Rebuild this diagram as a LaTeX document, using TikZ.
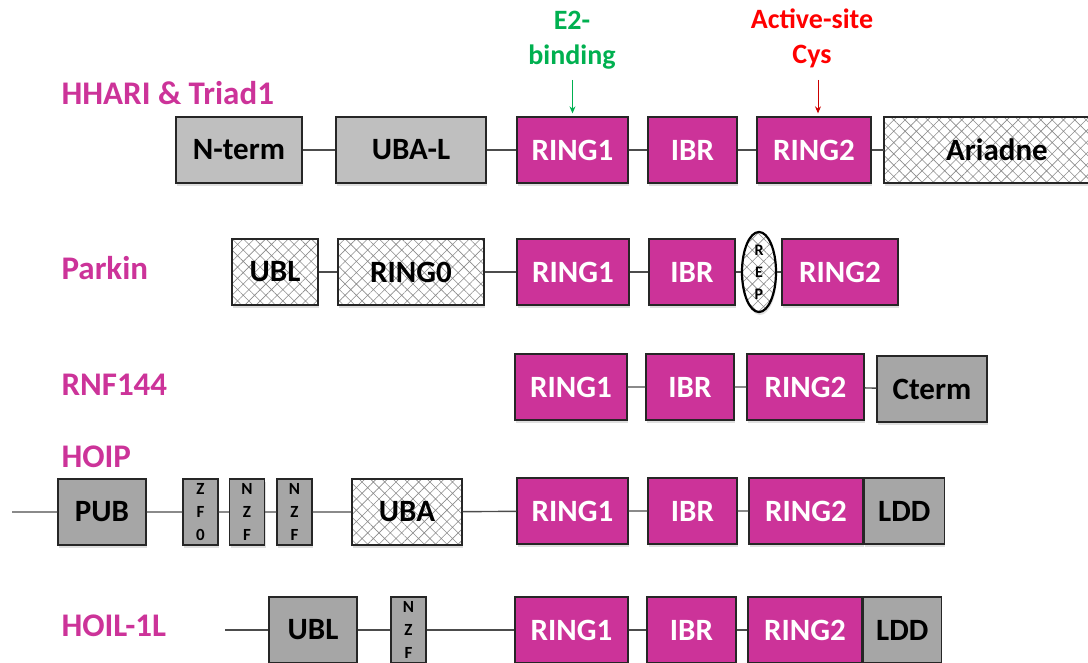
\documentclass[tikz,border=0pt]{standalone}
\usepackage{fontspec}
\setmainfont{Carlito}
\usetikzlibrary{arrows.meta,patterns.meta,shadows,shapes.geometric,positioning}
\definecolor{mag}{HTML}{CC3399}
\definecolor{gmid}{HTML}{A6A6A6}
\definecolor{glight}{HTML}{BFBFBF}
\definecolor{egreen}{HTML}{00B050}
\definecolor{ared}{HTML}{FF0000}
\tikzset{
  dom/.style ={draw=black!85,line width=1.3pt,minimum height=66pt,inner sep=0pt,
               font=\bfseries\fontsize{31}{32}\selectfont,
               drop shadow={shadow xshift=1pt,shadow yshift=-3pt,opacity=0.25}},
  ring/.style={dom,fill=mag,text=white},
  gbox/.style={dom,fill=gmid},
  lbox/.style={dom,fill=glight},
  hbox/.style={dom,preaction={fill=white},
               pattern={Hatch[angle=45,distance=8pt,line width=0.6pt]},pattern color=black!45},
  zbox/.style={gbox,minimum width=35pt,align=center,font=\bfseries\fontsize{17}{23}\selectfont},
  link/.style={draw=black!70,line width=1.4pt},
  plab/.style={text=mag,anchor=west,font=\bfseries\fontsize{33}{34}\selectfont},
  site/.style={align=center,font=\bfseries\fontsize{28}{35}\selectfont},
}

\begin{document}
\begin{tikzpicture}[x=1pt,y=-1pt]
  \clip (0,0) rectangle (1088,663);
  % HHARI & Triad1
  \node[plab] (lhh) at (58,93) {HHARI \& Triad1};
  \node[lbox,minimum width=126pt] (nt)   at (239,150)   {N-term};
  \node[lbox,minimum width=150pt] (ubal) at (411,150)   {UBA-L};
  \node[ring,minimum width=111pt] (ra1)  at (572.5,150) {RING1};
  \node[ring,minimum width=89pt]  (ib1)  at (692.5,150) {IBR};
  \node[ring,minimum width=114pt] (rb1)  at (814,150)   {RING2};
  \node[hbox,minimum width=226pt] (ari)  at (997,150)   {Ariadne};
  \node[site,text=egreen] (e2)  at (572,40) {E2-\\binding};
  \node[site,text=ared]   (act) at (812,38) {Active-site\\Cys};
  \coordinate (e2t)  at (572.5,80);
  \coordinate (actt) at (818,80);
  \draw[egreen,line width=1pt,-{Stealth[length=7pt,width=6pt]},shorten >=3pt] (e2t) -- (ra1);
  \draw[red!80!black,line width=1pt,-{Stealth[length=7pt,width=6pt]},shorten >=3pt] (actt) -- (actt |- rb1.north);
  \draw[link] (nt) -- (ubal) (ubal) -- (ra1) (ra1) -- (ib1) (ib1) -- (rb1) (rb1) -- (ari);

  % Parkin
  \node[plab] (lpk) at (58,268) {Parkin};
  \node[hbox,minimum width=86pt]  (ubl) at (275,272) {UBL};
  \node[hbox,minimum width=146pt] (rg0) at (411,272) {RING0};
  \node[ring,minimum width=112pt] (ra2) at (573,272) {RING1};
  \node[ring,minimum width=86pt]  (ib2) at (692,272) {IBR};
  \node[hbox,ellipse,draw=black,line width=2.2pt,minimum width=34pt,minimum height=80pt,
        align=center,font=\bfseries\fontsize{16}{22}\selectfont] (rep) at (759,272) {R\\E\\P};
  \node[ring,minimum width=116pt] (rb2) at (840,272) {RING2};
  \draw[link] (ubl) -- (rg0) (rg0) -- (ra2) (ra2) -- (ib2) (ib2) -- (rep) (rep) -- (rb2);

  % RNF144
  \node[plab] (lrn) at (58,385) {RNF144};
  \node[ring,minimum width=112pt] (ra3) at (571,387)   {RING1};
  \node[ring,minimum width=88pt]  (ib3) at (690,387)   {IBR};
  \node[ring,minimum width=117pt] (rb3) at (805.5,387) {RING2};
  \node[gbox,minimum width=110pt] (ct)  at (932,389)   {Cterm};
  \draw[link] (ra3) -- (ib3) (ib3) -- (rb3) (rb3) -- (ct);

  % HOIP
  \node[plab] (lho) at (58,457) {HOIP};
  \coordinate (s4) at (12,512);
  \node[gbox,minimum width=88pt]  (pub) at (102,512)   {PUB};
  \node[zbox] (zf0) at (200.5,512) {Z\\F\\0};
  \node[zbox] (nz1) at (247,512)   {N\\Z\\F};
  \node[zbox] (nz2) at (294.5,512) {N\\Z\\F};
  \node[hbox,minimum width=110pt] (uba) at (407,512)   {UBA};
  \node[ring,minimum width=111pt] (ra4) at (572.5,511) {RING1};
  \node[ring,minimum width=89pt]  (ib4) at (692.5,511) {IBR};
  \node[ring,minimum width=114pt] (rb4) at (806,511)   {RING2};
  \node[gbox,minimum width=80pt,anchor=west] (ld4) at (rb4.east) {LDD};
  \draw[link] (s4) -- (pub) (pub) -- (zf0) (zf0) -- (nz1) (nz1) -- (nz2) (nz2) -- (uba)
              (uba) -- (ra4) (ra4) -- (ib4) (ib4) -- (rb4);

  % HOIL-1L
  \node[plab] (lhl) at (58,626) {HOIL-1L};
  \coordinate (s5) at (225,630);
  \node[gbox,minimum width=88pt]  (ubl5) at (313,630)   {UBL};
  \node[zbox] (nz5) at (408.5,630) {N\\Z\\F};
  \node[ring,minimum width=113pt] (ra5) at (571.5,630) {RING1};
  \node[ring,minimum width=89pt]  (ib5) at (691.5,630) {IBR};
  \node[ring,minimum width=114pt] (rb5) at (805,630)   {RING2};
  \node[gbox,minimum width=78pt,anchor=west] (ld5) at (rb5.east) {LDD};
  \draw[link] (s5) -- (ubl5) (ubl5) -- (nz5) (nz5) -- (ra5) (ra5) -- (ib5) (ib5) -- (rb5);
\end{tikzpicture}
\end{document}
